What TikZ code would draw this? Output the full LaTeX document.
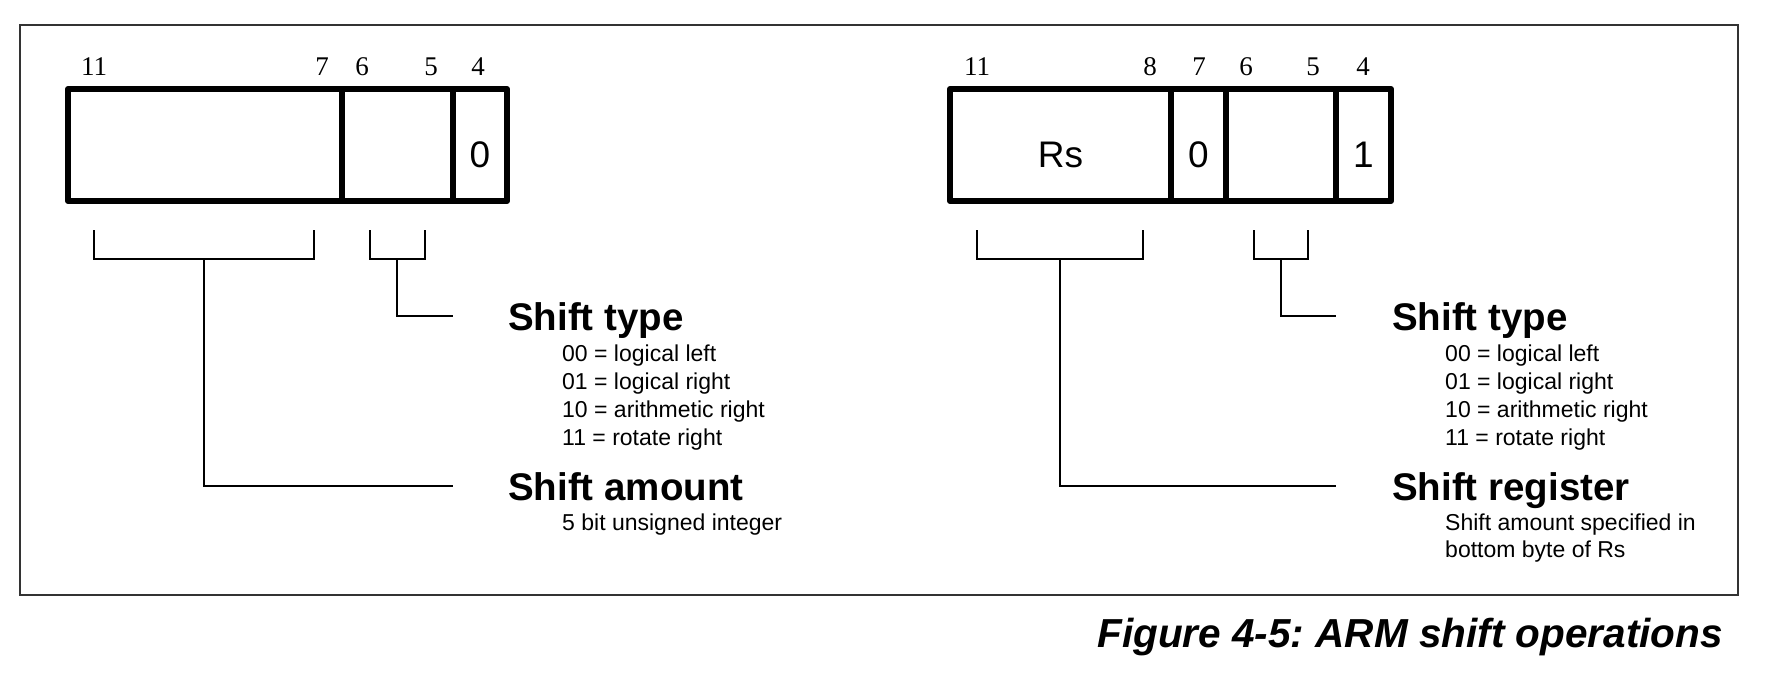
\documentclass[tikz,border=0pt]{standalone}
\usepackage{fontspec}
\setmainfont{Liberation Serif}
\setsansfont{Liberation Sans}
\newcommand\fieldfnt{\sffamily\fontsize{37}{44}\selectfont}
\newcommand\bitfnt{\rmfamily\fontsize{27}{32}\selectfont}
\newcommand\headfnt{\sffamily\bfseries\fontsize{38.5}{44}\selectfont}
\newcommand\descfnt{\sffamily\fontsize{23}{28}\selectfont}
\newcommand\capfnt{\sffamily\bfseries\itshape\fontsize{40.5}{48}\selectfont}
\frenchspacing
\begin{document}
\begin{tikzpicture}[x=1pt,y=-1pt,
  field/.style={draw, line width=6pt, line join=round, inner sep=0pt, outer sep=0pt,
    minimum height=112pt, text height=44pt, text depth=0pt, font=\fieldfnt, anchor=west},
  bitnum/.style={inner sep=0pt, anchor=base, font=\bitfnt},
  head/.style={inner sep=0pt, anchor=base west, font=\headfnt, text depth=0pt},
  desc/.style={inner sep=0pt, anchor=base west, font=\descfnt},
  brk/.style={line width=2pt}]
\useasboundingbox (0,0) rectangle (1780,686);
% frame
\draw[line width=2pt, black!80] (20,25) rectangle (1738,595);
% left register
\node[field, minimum width=274pt] (L1) at (68,145) {};
\node[field, minimum width=111pt] (L2) at (342,145) {};
\node[field, minimum width=54pt] (L3) at (453,145) {0};
\node[bitnum] (lb11) at (94,75) {11};
\node[bitnum] (lb7) at (322,75) {7};
\node[bitnum] (lb6) at (362,75) {6};
\node[bitnum] (lb5) at (431,75) {5};
\node[bitnum] (lb4) at (478,75) {4};
% right register
\node[field, minimum width=221pt] (R1) at (950,145) {Rs};
\node[field, minimum width=55pt] (R2) at (1171,145) {0};
\node[field, minimum width=110pt] (R3) at (1226,145) {};
\node[field, minimum width=55pt] (R4) at (1336,145) {1};
\node[bitnum] (rb11) at (977,75) {11};
\node[bitnum] (rb8) at (1150,75) {8};
\node[bitnum] (rb7) at (1199,75) {7};
\node[bitnum] (rb6) at (1246,75) {6};
\node[bitnum] (rb5) at (1313,75) {5};
\node[bitnum] (rb4) at (1363,75) {4};
% left texts
\node[head] (LtypeH) at (508,330) {Shift type};
\node[desc] (Lt1) at (562,361) {00 = logical left};
\node[desc] (Lt2) at (562,389) {01 = logical right};
\node[desc] (Lt3) at (562,417) {10 = arithmetic right};
\node[desc] (Lt4) at (562,445) {11 = rotate right};
\node[head] (LamtH) at (508,500) {Shift amount};
\node[desc] (La1) at (562,530) {5 bit unsigned integer};
% right texts
\node[head] (RtypeH) at (1392,330) {Shift type};
\node[desc] (Rt1) at (1445,361) {00 = logical left};
\node[desc] (Rt2) at (1445,389) {01 = logical right};
\node[desc] (Rt3) at (1445,417) {10 = arithmetic right};
\node[desc] (Rt4) at (1445,445) {11 = rotate right};
\node[head] (RregH) at (1392,500) {Shift register};
\node[desc] (Rr1) at (1445,530) {Shift amount specified in};
\node[desc] (Rr2) at (1445,557) {bottom byte of Rs};
% left brackets
\coordinate (LA1) at (94,230); \coordinate (LA2) at (314,230); \coordinate (LAm) at (204,259);
\coordinate (LB1) at (370,230); \coordinate (LB2) at (425,230); \coordinate (LBm) at (397,259);
\draw[brk] (LA1) |- (LAm) -| (LA2);
\draw[brk] (LB1) |- (LBm) -| (LB2);
\draw[brk] (LAm) |- ([xshift=-55pt]LamtH.west);
\draw[brk] (LBm) |- ([xshift=-55pt]LtypeH.west);
% right brackets
\coordinate (RA1) at (977,230); \coordinate (RA2) at (1143,230); \coordinate (RAm) at (1060,259);
\coordinate (RB1) at (1254,230); \coordinate (RB2) at (1308,230); \coordinate (RBm) at (1281,259);
\draw[brk] (RA1) |- (RAm) -| (RA2);
\draw[brk] (RB1) |- (RBm) -| (RB2);
\draw[brk] (RAm) |- ([xshift=-56pt]RregH.west);
\draw[brk] (RBm) |- ([xshift=-56pt]RtypeH.west);
% caption
\node[inner sep=0pt, anchor=base east, font=\capfnt] (cap) at (1723,647) {Figure 4-5: ARM shift operations};
\end{tikzpicture}
\end{document}
